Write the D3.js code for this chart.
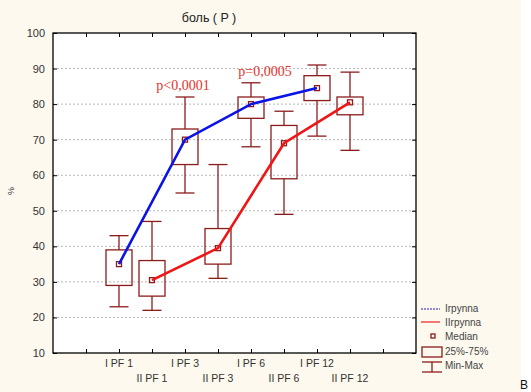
<!DOCTYPE html>
<meta charset="utf-8">
<style>
body { margin: 0; background: #fff; }
svg { display: block; }
text { font-family: "Liberation Sans", Arial, sans-serif; }
.grid line { stroke: #b8b8b8; stroke-dasharray: 2,2; }
.box { fill: none; stroke: #8b1c1c; stroke-width: 1.3; }
.ann { font-family: "Liberation Serif", "Times New Roman", serif; fill: #e8302a; font-size: 14px; }
</style>
<svg width="531" height="392"></svg>
<script src="https://d3js.org/d3.v7.min.js"></script>
<script>
// данные
var categories = ['I PF 1', 'II PF 1', 'I PF 3', 'II PF 3', 'I PF 6', 'II PF 6', 'I PF 12', 'II PF 12'];
var mins    = [23, 22, 55, 31, 68, 49, 71, 67];
var q1      = [29, 26, 63, 35, 76, 59, 81, 77];
var medians = [35, 30.5, 70, 39.5, 80, 69, 84.5, 80.5];
var q3      = [39, 36, 73, 45, 82, 74, 88, 82];
var maxs    = [43, 47, 82, 63, 86, 78, 91, 89];
var yTicks  = [10, 20, 30, 40, 50, 60, 70, 80, 90, 100];
var groupI  = [0, 2, 4, 6];
var groupII = [1, 3, 5, 7];

var svg = d3.select('svg');
var margin = { top: 33, left: 53, right: 115, bottom: 39 };
var width = +svg.attr('width') - margin.left - margin.right;
var height = +svg.attr('height') - margin.top - margin.bottom;

// фон
svg.append('rect').attr('width', 521).attr('height', 392).attr('fill', '#fdf9ee');

var g = svg.append('g').attr('transform', `translate(${margin.left}, ${margin.top})`);
g.append('rect').attr('width', width).attr('height', height).attr('fill', '#fff');

// позиции 0..11, категории стоят на 2..9
var x = d3.scaleLinear().domain([0, 11]).range([0, width]);
var y = d3.scaleLinear().domain([10, 100]).range([height, 0]);
function cx(i) { return x(i + 2); }

g.append('g').attr('class', 'grid')
  .selectAll('line')
  .data(yTicks.filter(function (t) { return t > 10 && t < 100; }))
  .enter().append('line')
  .attr('x1', 0).attr('x2', width)
  .attr('y1', function (d) { return y(d); })
  .attr('y2', function (d) { return y(d); });

// оси
var xt = d3.range(1, 11);
g.append('g').call(d3.axisLeft(y).tickValues(yTicks).tickSize(-4).tickPadding(8).tickFormat(d3.format('d')))
  .call(function (a) { a.select('.domain').remove(); a.selectAll('text').attr('font-size', 11).attr('fill', '#333').attr('font-family', 'Liberation Sans'); });
g.append('g').attr('transform', `translate(${width},0)`)
  .call(d3.axisRight(y).tickValues(yTicks).tickSize(-4).tickFormat(''))
  .call(function (a) { a.select('.domain').remove(); });
g.append('g').call(d3.axisTop(x).tickValues(xt).tickSize(-4).tickFormat(''))
  .call(function (a) { a.select('.domain').remove(); });
g.append('g').attr('transform', `translate(0,${height})`)
  .call(d3.axisBottom(x).tickValues(xt).tickSize(-4).tickFormat(''))
  .call(function (a) { a.select('.domain').remove(); });
g.append('rect').attr('width', width).attr('height', height)
  .attr('fill', 'none').attr('stroke', '#000').attr('stroke-width', 1.3);

// подписи категорий в два ряда
g.selectAll('.xlab')
  .data(categories)
  .enter().append('text')
  .attr('class', 'xlab')
  .attr('x', function (d, i) { return cx(i); })
  .attr('y', function (d, i) { return height + (i % 2 === 0 ? 14 : 29); })
  .attr('text-anchor', 'middle')
  .attr('font-size', 10.5)
  .attr('fill', '#333')
  .text(function (d) { return d; });

// боксы
var bw = 26, cw = 19;
var boxes = g.selectAll('.bx').data(categories).enter().append('g').attr('class', 'bx');
boxes.append('line').attr('class', 'box')
  .attr('x1', function (d, i) { return cx(i); }).attr('x2', function (d, i) { return cx(i); })
  .attr('y1', function (d, i) { return y(maxs[i]); }).attr('y2', function (d, i) { return y(q3[i]); });
boxes.append('line').attr('class', 'box')
  .attr('x1', function (d, i) { return cx(i); }).attr('x2', function (d, i) { return cx(i); })
  .attr('y1', function (d, i) { return y(q1[i]); }).attr('y2', function (d, i) { return y(mins[i]); });
boxes.append('line').attr('class', 'box')
  .attr('x1', function (d, i) { return cx(i) - cw / 2; }).attr('x2', function (d, i) { return cx(i) + cw / 2; })
  .attr('y1', function (d, i) { return y(maxs[i]); }).attr('y2', function (d, i) { return y(maxs[i]); });
boxes.append('line').attr('class', 'box')
  .attr('x1', function (d, i) { return cx(i) - cw / 2; }).attr('x2', function (d, i) { return cx(i) + cw / 2; })
  .attr('y1', function (d, i) { return y(mins[i]); }).attr('y2', function (d, i) { return y(mins[i]); });
boxes.append('rect').attr('class', 'box')
  .attr('x', function (d, i) { return cx(i) - bw / 2; })
  .attr('y', function (d, i) { return y(q3[i]); })
  .attr('width', bw)
  .attr('height', function (d, i) { return y(q1[i]) - y(q3[i]); });
boxes.append('rect').attr('class', 'box')
  .attr('x', function (d, i) { return cx(i) - 2.5; })
  .attr('y', function (d, i) { return y(medians[i]) - 2.5; })
  .attr('width', 5).attr('height', 5).attr('stroke-width', 1.2);

// линии медиан
var line = d3.line().x(function (i) { return cx(i); }).y(function (i) { return y(medians[i]); });
g.append('path').datum(groupI).attr('d', line)
  .attr('fill', 'none').attr('stroke', '#0a14e6').attr('stroke-width', 2.6);
g.append('path').datum(groupII).attr('d', line)
  .attr('fill', 'none').attr('stroke', '#f01414').attr('stroke-width', 2.6);

// p-значения
g.append('text').attr('class', 'ann').attr('x', cx(2) - 2).attr('y', y(82) - 7)
  .attr('text-anchor', 'middle').text('p<0,0001');
g.append('text').attr('class', 'ann').attr('x', cx(4) + 14).attr('y', y(86) - 7)
  .attr('text-anchor', 'middle').text('p=0,0005');

// заголовок и подпись оси
svg.append('text').attr('x', 209).attr('y', 22).attr('text-anchor', 'middle')
  .attr('font-size', 12.5).attr('fill', '#222').text('боль ( P )');
svg.append('text').attr('transform', 'translate(14,191) rotate(-90)').attr('text-anchor', 'middle')
  .attr('font-size', 9).attr('fill', '#333').text('%');

// легенда
var lg = svg.append('g').attr('transform', 'translate(420,0)');
lg.append('line').attr('x1', 1).attr('x2', 20).attr('y1', 309).attr('y2', 309)
  .attr('stroke', '#2020c0').attr('stroke-width', 1).attr('stroke-dasharray', '2,1');
lg.append('line').attr('x1', 1).attr('x2', 20).attr('y1', 322).attr('y2', 322)
  .attr('stroke', '#f02020').attr('stroke-width', 1.2);
lg.append('rect').attr('class', 'box').attr('x', 11).attr('y', 334).attr('width', 4).attr('height', 4);
lg.append('rect').attr('class', 'box').attr('x', 2).attr('y', 347).attr('width', 20).attr('height', 10);
lg.append('line').attr('class', 'box').attr('x1', 2).attr('x2', 22).attr('y1', 362).attr('y2', 362);
lg.append('line').attr('class', 'box').attr('x1', 12).attr('x2', 12).attr('y1', 362).attr('y2', 372);
lg.append('line').attr('class', 'box').attr('x1', 2).attr('x2', 22).attr('y1', 372).attr('y2', 372);
var legendTexts = ['Irpynna', 'IIrpynna', 'Median', '25%-75%', 'Min-Max'];
var legendY = [312, 326, 340, 355, 369];
lg.selectAll('.lt').data(legendTexts).enter().append('text')
  .attr('x', 25).attr('y', function (d, i) { return legendY[i]; })
  .attr('font-size', 10).attr('fill', '#444').text(function (d) { return d; });

svg.append('text').attr('x', 520).attr('y', 389)
  .attr('font-family', 'Liberation Serif').attr('font-size', 12).attr('fill', '#111').text('B');
</script>
